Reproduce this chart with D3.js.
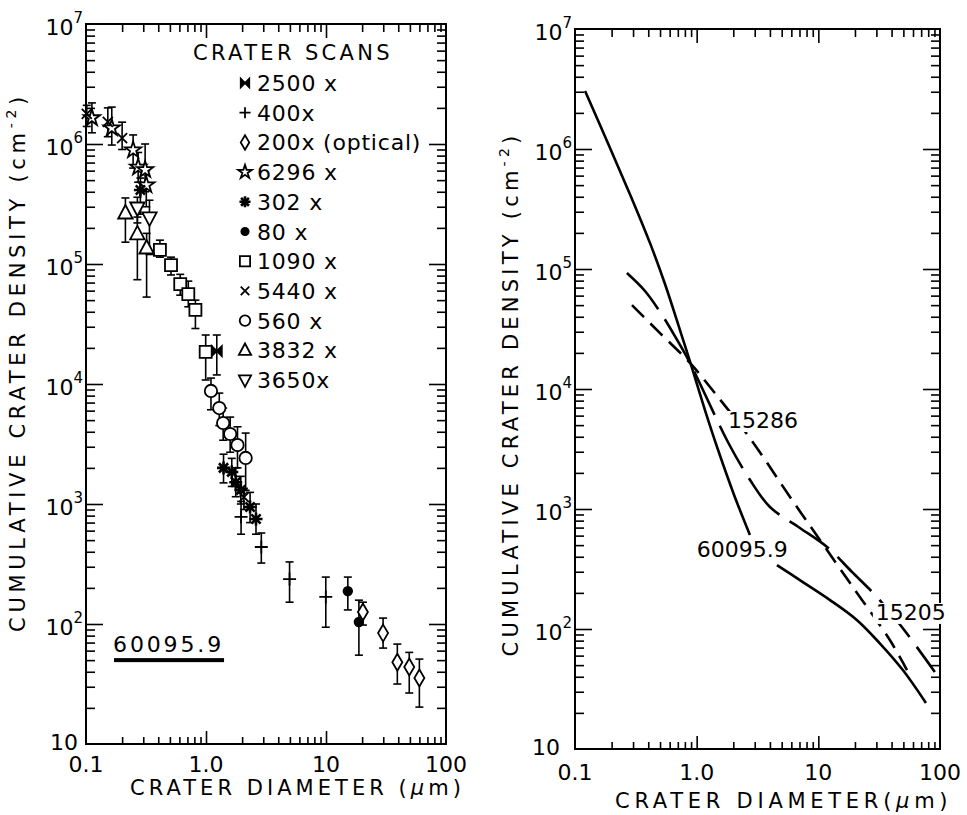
<!DOCTYPE html>
<html>
<head>
<meta charset="utf-8">
<script src="https://cdn.jsdelivr.net/npm/d3@7"></script>
<style>
  body { margin: 0; background: #fff; }
  text { font-family: "DejaVu Sans", sans-serif; fill: #000; }
</style>
</head>
<body>
<svg id="chart" width="967" height="815"></svg>
<script>
// ---- data (diameter um, cumulative density cm^-2, error low, error high) ----
const scan2500 = [[1.23, 1.88e4, 1.19e4, 2.56e4]];
const scan400 = [
  [1.96, 780, 560, 1050],
  [2.89, 438, 322, 573],
  [4.97, 237, 152, 329],
  [9.96, 168, 94, 246]
];
const scan200 = [
  [20.3, 126, 98, 152],
  [29.9, 84, 63, 112],
  [39.3, 48, 31.6, 68],
  [49.4, 43.8, 26.6, 58],
  [60, 35.5, 20.3, 51]
];
const scan6296 = [
  [0.112, 1.65e6, 1.24e6, 2.2e6],
  [0.164, 1.36e6, 9.8e5, 2.03e6],
  [0.247, 8.9e5, 6.3e5, 1.19e6],
  [0.272, 6.4e5, 4.8e5, 8.5e5],
  [0.311, 6.1e5, 4.0e5, 1.0e6],
  [0.318, 4.55e5, 3.0e5, 6.0e5]
];
const scan302 = [
  [0.284, 4.14e5, 2.6e5, 5.2e5],
  [1.40, 2.0e3, 1.5e3, 2.6e3],
  [1.64, 1.85e3, 1.4e3, 2.4e3],
  [1.77, 1.52e3, 1.15e3, 2.0e3],
  [1.95, 1.31e3, 1.0e3, 1.7e3],
  [2.33, 944, 700, 1250],
  [2.61, 750, 560, 1000]
];
const scan80 = [[15.2, 188, 131, 246], [18.8, 104, 55, 158]];
const scan1090 = [
  [0.413, 1.31e5, 1.14e5, 1.58e5],
  [0.511, 9.8e4, 8.1e4, 1.14e5],
  [0.61, 6.8e4, 5.5e4, 8.2e4],
  [0.712, 5.6e4, 4.4e4, 7.2e4],
  [0.816, 4.14e4, 2.9e4, 5.0e4],
  [0.994, 1.85e4, 1.08e4, 2.56e4]
];
const scan5440 = [
  [0.1015, 1.78e6, 1.4e6, 2.1e6],
  [0.152, 1.53e6, 1.15e6, 2.0e6],
  [0.2, 1.12e6, 9e5, 1.52e6],
  [2.07, 1.14e3, 900, 1.35e3]
];
const scan560 = [
  [1.10, 8.75e3, 6.1e3, 1.12e4],
  [1.29, 6.3e3, 4.5e3, 8.4e3],
  [1.39, 4.73e3, 3.4e3, 6.3e3],
  [1.59, 3.83e3, 2.7e3, 5.3e3],
  [1.83, 3.1e3, 2.0e3, 4.4e3],
  [2.14, 2.42e3, 1.3e3, 3.9e3]
];
const scan3832 = [
  [0.213, 2.66e5, 1.52e5, 3.55e5],
  [0.268, 1.78e5, 7.4e4, 2.46e5],
  [0.32, 1.36e5, 5.3e4, 1.8e5]
];
const scan3650 = [
  [0.268, 2.93e5, 2.2e5, 3.6e5],
  [0.338, 2.42e5, 1.2e5, 3.4e5]
];
const legendLabels = ["2500 x", "400x", "200x (optical)", "6296 x", "302 x", "80 x",
  "1090 x", "5440 x", "560 x", "3832 x", "3650x"];

// right panel curves (diameter, density)
const curve60095a = [[0.121, 3.04e6], [0.194, 1.02e6], [0.294, 3.83e5], [0.413, 1.65e5],
  [0.549, 7.5e4], [0.729, 3.1e4], [0.915, 1.5e4], [1.17, 6.68e3], [1.50, 3.1e3],
  [2.03, 1.31e3], [2.74, 607]];
const curve60095b = [[4.57, 341], [7.46, 246], [12.4, 175], [20.7, 119], [32, 76],
  [49.5, 45.5], [76.6, 24.2]];
const curve15205 = [[0.267, 9.26e4], [0.376, 6.56e4], [0.519, 4.14e4], [0.676, 2.66e4],
  [0.881, 1.65e4], [1.127, 9.8e3], [1.81, 3.6e3], [2.74, 1.75e3], [4.0, 1.04e3],
  [7.06, 695], [11.8, 482], [18.9, 299], [30.3, 185], [48.6, 104], [90.7, 43.8]];
const curve15286 = [[0.294, 5.0e4], [0.509, 2.87e4], [0.881, 1.65e4], [1.41, 9.26e3],
  [2.74, 3.9e3], [5.85, 1.26e3], [9.04, 668], [19.2, 224], [38.7, 81], [53.5, 45.5]];

const decades = [1, 2, 3, 4, 5, 6, 7];
const xMajor = [0.1, 1, 10, 100];
const xMajorLabels = ["0.1", "1.0", "10", "100"];

// ---- setup ----
const svg = d3.select("#chart");
svg.append("rect").attr("width", 967).attr("height", 815).attr("fill", "#fff");

const xL = d3.scaleLog().domain([0.1, 100]).range([86, 446]);
const yL = d3.scaleLog().domain([10, 1e7]).range([744, 24]);
const xR = d3.scaleLog().domain([0.1, 100]).range([575, 940]);
const yR = d3.scaleLog().domain([10, 1e7]).range([749, 29]);

const isDecade = (v) => Math.abs(Math.log10(v) - Math.round(Math.log10(v))) < 1e-6;

function fit(t, w) {
  const n = t.text().length;
  const len = t.node().getComputedTextLength();
  t.attr("letter-spacing", (w - len) / n);
}

function frame(x, y, xLabOff, oneOff) {
  const g = svg.append("g");
  const [x0, x1] = x.range();
  const [y0, y1] = y.range();
  const minorX = x.ticks().filter((v) => !isDecade(v));
  const minorY = y.ticks().filter((v) => !isDecade(v));
  const majorX = [1, 10];
  const majorY = d3.range(2, 7).map((e) => Math.pow(10, e));
  const axes = [
    [d3.axisBottom(x), `translate(0,${y0})`, minorX, -7],
    [d3.axisBottom(x), `translate(0,${y0})`, majorX, -13],
    [d3.axisTop(x), `translate(0,${y1})`, minorX, -8],
    [d3.axisTop(x), `translate(0,${y1})`, majorX, -14],
    [d3.axisLeft(y), `translate(${x0},0)`, minorY, -9],
    [d3.axisLeft(y), `translate(${x0},0)`, majorY, -17],
    [d3.axisRight(y), `translate(${x1},0)`, minorY, -9],
    [d3.axisRight(y), `translate(${x1},0)`, majorY, -17]
  ];
  axes.forEach(([ax, tr, vals, size]) => {
    g.append("g")
      .attr("transform", tr)
      .call(ax.tickValues(vals).tickSize(size).tickSizeOuter(0).tickFormat(() => ""))
      .call((a) => a.select(".domain").remove())
      .call((a) => a.selectAll("line").attr("stroke", "#000").attr("stroke-width", 1.6));
  });
  g.append("rect")
    .attr("x", x0).attr("y", y1)
    .attr("width", x1 - x0).attr("height", y0 - y1)
    .attr("fill", "none").attr("stroke", "#000").attr("stroke-width", 2);

  // y tick labels
  decades.forEach((e) => {
    const v = Math.pow(10, e);
    if (e === 1) {
      g.append("text").attr("x", x0 - oneOff).attr("y", y(v) + 6)
        .attr("text-anchor", "end").attr("font-size", 22).text("10");
    } else {
      const t = g.append("text").attr("x", x0 - 3).attr("y", y(v) + 11)
        .attr("text-anchor", "end").attr("font-size", 22);
      t.append("tspan").text("10");
      t.append("tspan").attr("dy", -12).attr("font-size", 15).text(e);
    }
  });
  // x tick labels
  xMajor.forEach((v, i) => {
    g.append("text").attr("x", x(v)).attr("y", y0 + xLabOff)
      .attr("text-anchor", "middle").attr("font-size", 22).text(xMajorLabels[i]);
  });
}

frame(xL, yL, 28, 8);
frame(xR, yR, 31, 15);

// axis titles
function yTitle(cx, cy, w) {
  const t = svg.append("text")
    .attr("transform", `translate(${cx},${cy}) rotate(-90)`)
    .attr("text-anchor", "middle").attr("font-size", 21);
  t.append("tspan").text("CUMULATIVE CRATER DENSITY (cm");
  t.append("tspan").attr("dy", -9).attr("font-size", 14).text("-2");
  t.append("tspan").attr("dy", 9).text(")");
  fit(t, w);
}
yTitle(25, 362, 540);
yTitle(518, 394, 525);

function xTitle(x0, y0, w, txt) {
  const t = svg.append("text").attr("x", x0).attr("y", y0).attr("font-size", 21);
  t.append("tspan").text(txt);
  t.append("tspan").attr("font-style", "italic").text("\u03bc");
  t.append("tspan").text("m)");
  fit(t, w);
}
xTitle(130, 795, 335, "CRATER DIAMETER (");
xTitle(615, 808, 342, "CRATER  DIAMETER(");

// ---- markers ----
function shapePath(shape, k) {
  switch (shape) {
    case "square": {
      const s = 6 * k;
      return `M${-s},${-s}h${2 * s}v${2 * s}h${-2 * s}Z`;
    }
    case "circle": return d3.symbol(d3.symbolCircle, Math.PI * (6.2 * k) ** 2)();
    case "dot": return d3.symbol(d3.symbolCircle, Math.PI * (4.3 * k) ** 2)();
    case "diamond": return `M0,${-8.5 * k}L${5 * k},0L0,${8.5 * k}L${-5 * k},0Z`;
    case "star": return d3.symbol(d3.symbolStar, (8.5 * k) ** 2 / 0.8908)();
    case "triUp": return `M0,${-8 * k}L${7.2 * k},${5.5 * k}L${-7.2 * k},${5.5 * k}Z`;
    case "triDown": return `M0,${8 * k}L${7.2 * k},${-5.5 * k}L${-7.2 * k},${-5.5 * k}Z`;
    case "plus": {
      const s = 6.5 * k;
      return `M${-s},0H${s}M0,${-s}V${s}`;
    }
    case "times": {
      const s = 5 * k;
      return `M${-s},${-s}L${s},${s}M${s},${-s}L${-s},${s}`;
    }
    case "asterisk": {
      const s = 6.5 * k, q = s * 0.707;
      return `M${-s},0H${s}M0,${-s}V${s}M${-q},${-q}L${q},${q}M${q},${-q}L${-q},${q}`;
    }
    case "bowtie": {
      const s = 5 * k;
      return `M${-s},${-s}L0,0L${-s},${s}ZM${s},${-s}L0,0L${s},${s}Z`;
    }
  }
}
const openShapes = ["square", "circle", "diamond", "star", "triUp", "triDown"];
const lineShapes = ["plus", "times", "asterisk"];
function styleMarker(sel, shape) {
  sel.attr("stroke", "#000")
    .attr("stroke-width", shape === "asterisk" ? 2.6 : 1.8)
    .attr("stroke-linejoin", "miter")
    .attr("fill", openShapes.includes(shape) ? "#fff" : lineShapes.includes(shape) ? "none" : "#000");
}

const series = [
  { data: scan2500, shape: "bowtie" },
  { data: scan400, shape: "plus" },
  { data: scan200, shape: "diamond" },
  { data: scan6296, shape: "star" },
  { data: scan302, shape: "asterisk" },
  { data: scan80, shape: "dot" },
  { data: scan1090, shape: "square" },
  { data: scan5440, shape: "times" },
  { data: scan560, shape: "circle" },
  { data: scan3832, shape: "triUp" },
  { data: scan3650, shape: "triDown" }
];

// error bars
const bars = svg.append("g").attr("stroke", "#000").attr("stroke-width", 1.6);
series.forEach((s) => {
  s.data.forEach((d) => {
    const cx = xL(d[0]);
    bars.append("line").attr("x1", cx).attr("x2", cx).attr("y1", yL(d[2])).attr("y2", yL(d[3]));
    [d[2], d[3]].forEach((v) => {
      bars.append("line").attr("x1", cx - 4).attr("x2", cx + 4).attr("y1", yL(v)).attr("y2", yL(v));
    });
  });
});

// points
const pts = svg.append("g");
series.forEach((s) => {
  pts.selectAll(null)
    .data(s.data)
    .join("path")
    .attr("transform", (d) => `translate(${xL(d[0])},${yL(d[1])})`)
    .attr("d", shapePath(s.shape, 1))
    .call(styleMarker, s.shape);
});

// legend
const leg = svg.append("g");
const title = leg.append("text").attr("x", 193).attr("y", 60).attr("font-size", 21).text("CRATER SCANS");
fit(title, 200);
series.forEach((s, i) => {
  const cy = 83 + i * 29.7;
  leg.append("path")
    .attr("transform", `translate(245,${cy})`)
    .attr("d", shapePath(s.shape, 0.85))
    .call(styleMarker, s.shape);
  leg.append("text").attr("x", 257).attr("y", cy + 8)
    .attr("font-size", 22).attr("letter-spacing", 0.8).text(legendLabels[i]);
});

// sample label, left panel
const samp = svg.append("text").attr("x", xL(0.168)).attr("y", yL(58)).attr("font-size", 22).text("60095.9");
fit(samp, 111);
svg.append("rect").attr("x", xL(0.168) + 1).attr("y", yL(50) - 2)
  .attr("width", 110).attr("height", 4).attr("fill", "#000");

// ---- right panel curves ----
const line = d3.line().x((d) => xR(d[0])).y((d) => yR(d[1])).curve(d3.curveCatmullRom.alpha(0.5));
const curves = svg.append("g").attr("fill", "none").attr("stroke", "#000").attr("stroke-width", 2.6);
curves.append("path").attr("d", line(curve60095a));
curves.append("path").attr("d", line(curve60095b));
curves.append("path").attr("d", line(curve15205)).attr("stroke-dasharray", "48,12");
curves.append("path").attr("d", line(curve15286)).attr("stroke-dasharray", "17,9");

function curveLabel(xv, yv, txt) {
  const g = svg.append("g");
  const t = g.append("text").attr("x", xR(xv)).attr("y", yR(yv)).attr("font-size", 22).text(txt);
  const b = t.node().getBBox();
  g.insert("rect", "text").attr("x", b.x - 3).attr("y", b.y + 3)
    .attr("width", b.width + 6).attr("height", b.height - 4).attr("fill", "#fff");
}
curveLabel(1.81, 4.73e3, "15286");
curveLabel(1.0, 398, "60095.9");
curveLabel(29.7, 119, "15205");
</script>
</body>
</html>
